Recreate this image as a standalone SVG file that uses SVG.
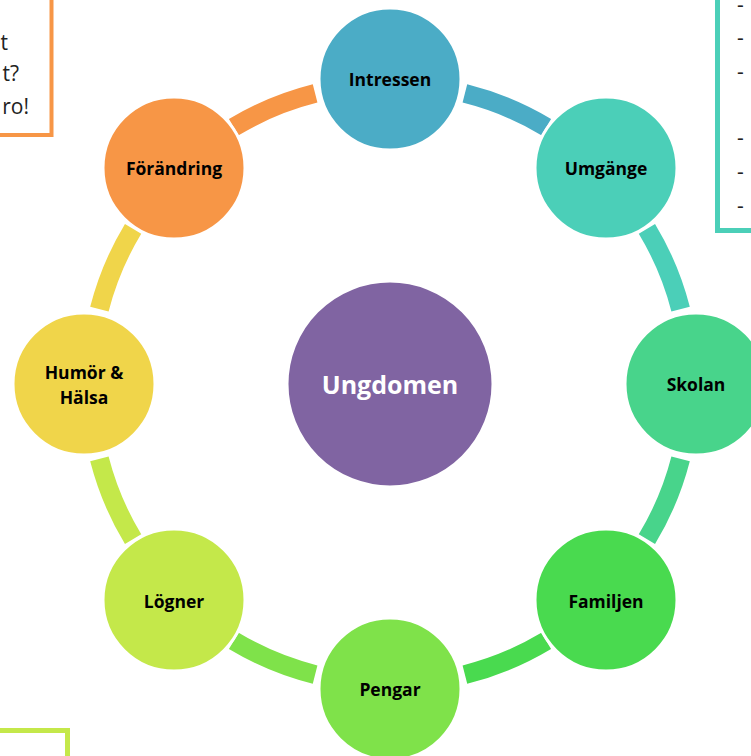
<svg xmlns="http://www.w3.org/2000/svg" width="751" height="756" viewBox="0 0 751 756">
<style>
.node circle{stroke:#fff;stroke-width:3}
.lbl{font-family:"Open Sans","Liberation Sans",sans-serif;font-weight:bold;font-size:17.5px;fill:#000;text-anchor:middle;dominant-baseline:central}
.big{font-family:"Open Sans","Liberation Sans",sans-serif;font-weight:bold;font-size:25px;fill:#fff;text-anchor:middle;dominant-baseline:central}
.side{font-family:"Open Sans","Liberation Sans",sans-serif;font-size:21px;fill:#222}
.arc{fill:none;stroke-width:19;stroke-linecap:butt}
</style>
<rect width="751" height="756" fill="#fff"/>
<g id="box-topleft">
<rect x="-10" y="-10" width="61.5" height="145" fill="#fff" stroke="#F79646" stroke-width="4"/>
<text class="side" x="8" y="50" text-anchor="end">t</text>
<text class="side" x="19" y="81" text-anchor="end">t?</text>
<text class="side" x="29" y="114" text-anchor="end">ro!</text>
</g>
<g id="box-topright">
<rect x="717.5" y="-10" width="60" height="240.5" fill="#fff" stroke="#4BCFB8" stroke-width="5"/>
<text class="side" x="737" y="12">-</text>
<text class="side" x="737" y="45">-</text>
<text class="side" x="737" y="79">-</text>
<text class="side" x="737" y="145">-</text>
<text class="side" x="737" y="179">-</text>
<text class="side" x="737" y="213">-</text>
</g>
<g id="box-bottomleft">
<rect x="-10" y="730.5" width="77.5" height="50" fill="#fff" stroke="#C4E84A" stroke-width="5"/>
</g>
<g id="connectors">
<path class="arc" stroke="#4BACC6" d="M 464.9 93.4 A 300 300 0 0 1 546.2 127.1"/>
<path class="arc" stroke="#4BCFB8" d="M 646.9 228.8 A 300 300 0 0 1 680.6 309.1"/>
<path class="arc" stroke="#48D48B" d="M 680.6 458.9 A 300 300 0 0 1 646.9 539.2"/>
<path class="arc" stroke="#49DA4F" d="M 546.2 640.9 A 300 300 0 0 1 464.9 674.6"/>
<path class="arc" stroke="#7FE24A" d="M 315.1 674.6 A 300 300 0 0 1 233.8 640.9"/>
<path class="arc" stroke="#C4E84A" d="M 133.1 539.2 A 300 300 0 0 1 99.4 458.9"/>
<path class="arc" stroke="#F0D54A" d="M 99.4 309.1 A 300 300 0 0 1 133.1 228.8"/>
<path class="arc" stroke="#F79646" d="M 233.8 127.1 A 300 300 0 0 1 315.1 93.4"/>
</g>
<g id="ungdomen" class="node"><circle cx="390" cy="384" r="103" fill="#8064A2"/><text class="big" x="390" y="384">Ungdomen</text></g>
<g id="intressen" class="node"><circle cx="390" cy="79" r="71" fill="#4BACC6"/><text class="lbl" x="390" y="79">Intressen</text></g>
<g id="umgange" class="node"><circle cx="606" cy="168" r="71" fill="#4BCFB8"/><text class="lbl" x="606" y="168">Umgänge</text></g>
<g id="skolan" class="node"><circle cx="696" cy="384" r="71" fill="#48D48B"/><text class="lbl" x="696" y="384">Skolan</text></g>
<g id="familjen" class="node"><circle cx="606" cy="600" r="71" fill="#49DA4F"/><text class="lbl" x="606" y="601">Familjen</text></g>
<g id="pengar" class="node"><circle cx="390" cy="689" r="71" fill="#7FE24A"/><text class="lbl" x="390" y="689">Pengar</text></g>
<g id="logner" class="node"><circle cx="174" cy="600" r="71" fill="#C4E84A"/><text class="lbl" x="174" y="601">Lögner</text></g>
<g id="humor" class="node"><circle cx="84" cy="384" r="71" fill="#F0D54A"/><text class="lbl" x="84" y="372">Humör &amp;</text><text class="lbl" x="84" y="397">Hälsa</text></g>
<g id="forandring" class="node"><circle cx="174" cy="168" r="71" fill="#F79646"/><text class="lbl" x="174" y="168">Förändring</text></g>
</svg>
